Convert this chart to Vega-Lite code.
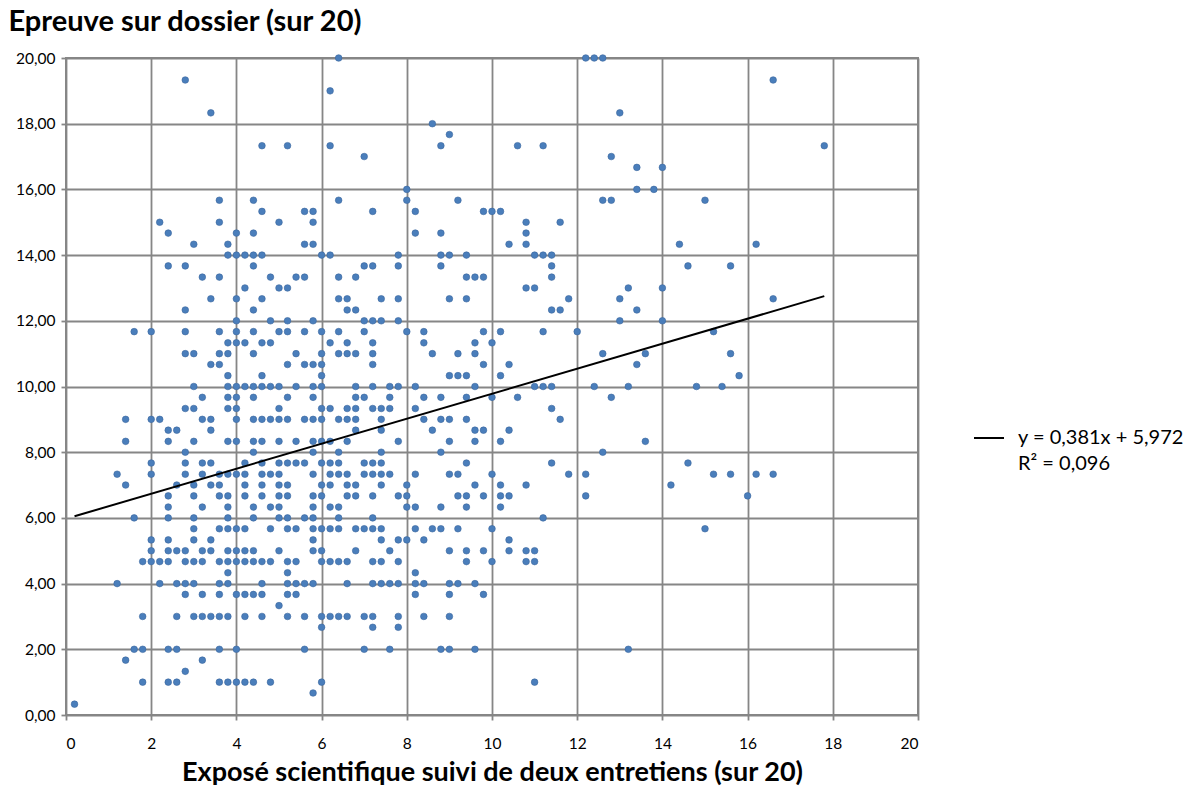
{
"$schema": "https://vega.github.io/schema/vega-lite/v6.json",
"width": 852, "height": 657,
"autosize": {"type": "none"},
"padding": {"left": 66, "top": 58, "right": 281, "bottom": 79},
"background": "white",
"config": {"font": "Lato", "view": {"stroke": "#868686", "strokeWidth": 2}},
"layer": [
{
"data": {"values": [
{"x":6.4,"y":20},{"x":12.2,"y":20},{"x":12.4,"y":20},{"x":12.6,"y":20},
{"x":2.8,"y":19.33},{"x":16.6,"y":19.33},{"x":6.2,"y":19},
{"x":3.4,"y":18.33},{"x":13.0,"y":18.33},{"x":8.6,"y":18},{"x":9.0,"y":17.67},
{"x":4.6,"y":17.33},{"x":5.2,"y":17.33},{"x":6.2,"y":17.33},{"x":8.8,"y":17.33},{"x":10.6,"y":17.33},{"x":11.2,"y":17.33},{"x":17.8,"y":17.33},
{"x":7.0,"y":17},{"x":12.8,"y":17},{"x":13.4,"y":16.67},{"x":14.0,"y":16.67},
{"x":8.0,"y":16},{"x":13.4,"y":16},{"x":13.8,"y":16},
{"x":3.6,"y":15.67},{"x":4.4,"y":15.67},{"x":6.4,"y":15.67},{"x":8.0,"y":15.67},{"x":9.2,"y":15.67},{"x":12.6,"y":15.67},{"x":12.8,"y":15.67},{"x":15.0,"y":15.67},
{"x":4.6,"y":15.33},{"x":5.6,"y":15.33},{"x":5.8,"y":15.33},{"x":7.2,"y":15.33},{"x":8.2,"y":15.33},{"x":9.8,"y":15.33},{"x":10.0,"y":15.33},{"x":10.2,"y":15.33},
{"x":2.2,"y":15},{"x":3.6,"y":15},{"x":5.0,"y":15},{"x":5.8,"y":15},{"x":10.8,"y":15},{"x":11.6,"y":15},
{"x":2.4,"y":14.67},{"x":4.0,"y":14.67},{"x":4.4,"y":14.67},{"x":8.2,"y":14.67},{"x":8.8,"y":14.67},{"x":10.8,"y":14.67},
{"x":3.0,"y":14.33},{"x":3.8,"y":14.33},{"x":5.6,"y":14.33},{"x":5.8,"y":14.33},{"x":10.4,"y":14.33},{"x":10.8,"y":14.33},{"x":14.4,"y":14.33},{"x":16.2,"y":14.33},
{"x":3.8,"y":14},{"x":4.0,"y":14},{"x":4.2,"y":14},{"x":4.4,"y":14},{"x":4.6,"y":14},{"x":6.0,"y":14},{"x":6.2,"y":14},{"x":7.8,"y":14},{"x":8.8,"y":14},{"x":9.0,"y":14},{"x":9.4,"y":14},{"x":11.0,"y":14},{"x":11.2,"y":14},{"x":11.4,"y":14},
{"x":2.4,"y":13.67},{"x":2.8,"y":13.67},{"x":4.4,"y":13.67},{"x":7.0,"y":13.67},{"x":7.2,"y":13.67},{"x":7.8,"y":13.67},{"x":8.8,"y":13.67},{"x":11.4,"y":13.67},{"x":14.6,"y":13.67},{"x":15.6,"y":13.67},
{"x":3.2,"y":13.33},{"x":3.6,"y":13.33},{"x":4.8,"y":13.33},{"x":5.4,"y":13.33},{"x":5.6,"y":13.33},{"x":6.4,"y":13.33},{"x":6.8,"y":13.33},{"x":9.4,"y":13.33},{"x":9.6,"y":13.33},{"x":9.8,"y":13.33},{"x":11.4,"y":13.33},
{"x":4.2,"y":13},{"x":5.0,"y":13},{"x":5.2,"y":13},{"x":10.8,"y":13},{"x":11.0,"y":13},{"x":13.2,"y":13},{"x":14.0,"y":13},
{"x":3.4,"y":12.67},{"x":4.0,"y":12.67},{"x":4.6,"y":12.67},{"x":6.4,"y":12.67},{"x":6.6,"y":12.67},{"x":7.4,"y":12.67},{"x":7.8,"y":12.67},{"x":9.0,"y":12.67},{"x":9.4,"y":12.67},{"x":11.8,"y":12.67},{"x":13.0,"y":12.67},{"x":16.6,"y":12.67},
{"x":2.8,"y":12.33},{"x":4.4,"y":12.33},{"x":6.6,"y":12.33},{"x":6.8,"y":12.33},{"x":11.4,"y":12.33},{"x":11.6,"y":12.33},{"x":13.4,"y":12.33},
{"x":4.0,"y":12},{"x":4.8,"y":12},{"x":5.2,"y":12},{"x":5.8,"y":12},{"x":7.0,"y":12},{"x":7.2,"y":12},{"x":7.4,"y":12},{"x":7.8,"y":12},{"x":13.0,"y":12},{"x":14.0,"y":12},
{"x":1.6,"y":11.67},{"x":2.0,"y":11.67},{"x":2.8,"y":11.67},{"x":3.6,"y":11.67},{"x":4.0,"y":11.67},{"x":4.4,"y":11.67},{"x":5.0,"y":11.67},{"x":5.2,"y":11.67},{"x":5.6,"y":11.67},{"x":6.0,"y":11.67},{"x":6.4,"y":11.67},{"x":7.0,"y":11.67},{"x":8.0,"y":11.67},{"x":8.4,"y":11.67},{"x":9.8,"y":11.67},{"x":10.2,"y":11.67},{"x":11.2,"y":11.67},{"x":12.0,"y":11.67},{"x":15.2,"y":11.67},
{"x":3.8,"y":11.33},{"x":4.0,"y":11.33},{"x":4.2,"y":11.33},{"x":4.6,"y":11.33},{"x":4.8,"y":11.33},{"x":6.2,"y":11.33},{"x":6.6,"y":11.33},{"x":7.2,"y":11.33},{"x":8.4,"y":11.33},{"x":9.6,"y":11.33},{"x":10.0,"y":11.33},
{"x":2.8,"y":11},{"x":3.0,"y":11},{"x":3.6,"y":11},{"x":3.8,"y":11},{"x":4.4,"y":11},{"x":5.4,"y":11},{"x":6.0,"y":11},{"x":6.4,"y":11},{"x":6.6,"y":11},{"x":6.8,"y":11},{"x":7.2,"y":11},{"x":8.6,"y":11},{"x":9.2,"y":11},{"x":9.6,"y":11},{"x":12.6,"y":11},{"x":13.6,"y":11},{"x":15.6,"y":11},
{"x":3.4,"y":10.67},{"x":3.6,"y":10.67},{"x":5.2,"y":10.67},{"x":5.6,"y":10.67},{"x":5.8,"y":10.67},{"x":6.0,"y":10.67},{"x":7.2,"y":10.67},{"x":9.8,"y":10.67},{"x":10.4,"y":10.67},{"x":13.4,"y":10.67},
{"x":3.8,"y":10.33},{"x":4.6,"y":10.33},{"x":6.0,"y":10.33},{"x":9.0,"y":10.33},{"x":9.2,"y":10.33},{"x":9.4,"y":10.33},{"x":10.2,"y":10.33},{"x":15.8,"y":10.33},
{"x":3.0,"y":10},{"x":3.8,"y":10},{"x":4.0,"y":10},{"x":4.2,"y":10},{"x":4.4,"y":10},{"x":4.6,"y":10},{"x":4.8,"y":10},{"x":5.0,"y":10},{"x":5.4,"y":10},{"x":5.8,"y":10},{"x":6.0,"y":10},{"x":6.8,"y":10},{"x":7.2,"y":10},{"x":7.6,"y":10},{"x":7.8,"y":10},{"x":8.2,"y":10},{"x":9.6,"y":10},{"x":11.0,"y":10},{"x":11.2,"y":10},{"x":11.4,"y":10},{"x":12.4,"y":10},{"x":13.2,"y":10},{"x":14.8,"y":10},{"x":15.4,"y":10},
{"x":3.2,"y":9.67},{"x":3.8,"y":9.67},{"x":4.0,"y":9.67},{"x":4.4,"y":9.67},{"x":5.2,"y":9.67},{"x":5.8,"y":9.67},{"x":6.8,"y":9.67},{"x":7.0,"y":9.67},{"x":7.6,"y":9.67},{"x":8.4,"y":9.67},{"x":8.8,"y":9.67},{"x":9.4,"y":9.67},{"x":10.0,"y":9.67},{"x":10.6,"y":9.67},{"x":12.8,"y":9.67},
{"x":2.8,"y":9.33},{"x":3.0,"y":9.33},{"x":3.8,"y":9.33},{"x":4.0,"y":9.33},{"x":5.0,"y":9.33},{"x":6.0,"y":9.33},{"x":6.2,"y":9.33},{"x":6.6,"y":9.33},{"x":6.8,"y":9.33},{"x":7.2,"y":9.33},{"x":7.4,"y":9.33},{"x":7.6,"y":9.33},{"x":8.2,"y":9.33},{"x":11.4,"y":9.33},
{"x":1.4,"y":9},{"x":2.0,"y":9},{"x":2.2,"y":9},{"x":3.2,"y":9},{"x":3.4,"y":9},{"x":4.0,"y":9},{"x":4.4,"y":9},{"x":4.6,"y":9},{"x":4.8,"y":9},{"x":5.0,"y":9},{"x":5.2,"y":9},{"x":5.6,"y":9},{"x":5.8,"y":9},{"x":6.0,"y":9},{"x":6.4,"y":9},{"x":6.6,"y":9},{"x":6.8,"y":9},{"x":7.4,"y":9},{"x":8.4,"y":9},{"x":8.8,"y":9},{"x":9.0,"y":9},{"x":9.4,"y":9},{"x":11.6,"y":9},
{"x":2.4,"y":8.67},{"x":2.6,"y":8.67},{"x":3.4,"y":8.67},{"x":6.8,"y":8.67},{"x":7.4,"y":8.67},{"x":8.6,"y":8.67},{"x":9.6,"y":8.67},{"x":9.8,"y":8.67},{"x":10.4,"y":8.67},
{"x":1.4,"y":8.33},{"x":2.4,"y":8.33},{"x":3.0,"y":8.33},{"x":3.8,"y":8.33},{"x":4.0,"y":8.33},{"x":4.4,"y":8.33},{"x":4.6,"y":8.33},{"x":5.0,"y":8.33},{"x":5.4,"y":8.33},{"x":5.8,"y":8.33},{"x":6.0,"y":8.33},{"x":6.2,"y":8.33},{"x":6.6,"y":8.33},{"x":7.8,"y":8.33},{"x":9.0,"y":8.33},{"x":9.6,"y":8.33},{"x":10.2,"y":8.33},{"x":13.6,"y":8.33},
{"x":2.8,"y":8},{"x":4.4,"y":8},{"x":5.8,"y":8},{"x":6.4,"y":8},{"x":7.4,"y":8},{"x":8.8,"y":8},{"x":12.6,"y":8},
{"x":2.0,"y":7.67},{"x":2.8,"y":7.67},{"x":3.2,"y":7.67},{"x":3.4,"y":7.67},{"x":4.2,"y":7.67},{"x":4.6,"y":7.67},{"x":5.0,"y":7.67},{"x":5.2,"y":7.67},{"x":5.4,"y":7.67},{"x":5.6,"y":7.67},{"x":6.0,"y":7.67},{"x":6.2,"y":7.67},{"x":6.4,"y":7.67},{"x":7.0,"y":7.67},{"x":7.2,"y":7.67},{"x":7.4,"y":7.67},{"x":9.4,"y":7.67},{"x":11.4,"y":7.67},{"x":14.6,"y":7.67},
{"x":1.2,"y":7.33},{"x":2.0,"y":7.33},{"x":2.8,"y":7.33},{"x":3.2,"y":7.33},{"x":3.6,"y":7.33},{"x":3.8,"y":7.33},{"x":4.0,"y":7.33},{"x":4.2,"y":7.33},{"x":4.6,"y":7.33},{"x":4.8,"y":7.33},{"x":5.0,"y":7.33},{"x":5.8,"y":7.33},{"x":6.2,"y":7.33},{"x":6.4,"y":7.33},{"x":6.6,"y":7.33},{"x":7.0,"y":7.33},{"x":7.2,"y":7.33},{"x":7.4,"y":7.33},{"x":7.6,"y":7.33},{"x":8.2,"y":7.33},{"x":9.0,"y":7.33},{"x":9.2,"y":7.33},{"x":10.0,"y":7.33},{"x":11.8,"y":7.33},{"x":12.2,"y":7.33},{"x":15.2,"y":7.33},{"x":15.6,"y":7.33},{"x":16.2,"y":7.33},{"x":16.6,"y":7.33},
{"x":1.4,"y":7},{"x":2.6,"y":7},{"x":3.0,"y":7},{"x":3.4,"y":7},{"x":3.6,"y":7},{"x":4.2,"y":7},{"x":4.6,"y":7},{"x":5.0,"y":7},{"x":5.2,"y":7},{"x":6.0,"y":7},{"x":6.2,"y":7},{"x":6.6,"y":7},{"x":6.8,"y":7},{"x":7.4,"y":7},{"x":8.0,"y":7},{"x":9.6,"y":7},{"x":10.2,"y":7},{"x":10.8,"y":7},{"x":14.2,"y":7},
{"x":2.4,"y":6.67},{"x":3.0,"y":6.67},{"x":3.6,"y":6.67},{"x":3.8,"y":6.67},{"x":4.2,"y":6.67},{"x":4.6,"y":6.67},{"x":5.0,"y":6.67},{"x":5.2,"y":6.67},{"x":5.8,"y":6.67},{"x":6.0,"y":6.67},{"x":6.6,"y":6.67},{"x":6.8,"y":6.67},{"x":7.2,"y":6.67},{"x":7.8,"y":6.67},{"x":8.0,"y":6.67},{"x":9.2,"y":6.67},{"x":9.4,"y":6.67},{"x":9.8,"y":6.67},{"x":10.2,"y":6.67},{"x":10.4,"y":6.67},{"x":12.2,"y":6.67},{"x":16.0,"y":6.67},
{"x":2.4,"y":6.33},{"x":3.2,"y":6.33},{"x":3.8,"y":6.33},{"x":4.4,"y":6.33},{"x":4.8,"y":6.33},{"x":5.0,"y":6.33},{"x":5.8,"y":6.33},{"x":6.2,"y":6.33},{"x":6.4,"y":6.33},{"x":8.0,"y":6.33},{"x":8.2,"y":6.33},{"x":8.8,"y":6.33},{"x":9.4,"y":6.33},{"x":10.2,"y":6.33},
{"x":1.6,"y":6},{"x":2.4,"y":6},{"x":3.0,"y":6},{"x":3.8,"y":6},{"x":4.4,"y":6},{"x":5.0,"y":6},{"x":5.2,"y":6},{"x":5.6,"y":6},{"x":5.8,"y":6},{"x":6.4,"y":6},{"x":7.2,"y":6},{"x":11.2,"y":6},
{"x":3.0,"y":5.67},{"x":3.6,"y":5.67},{"x":3.8,"y":5.67},{"x":4.0,"y":5.67},{"x":4.2,"y":5.67},{"x":4.8,"y":5.67},{"x":5.2,"y":5.67},{"x":5.4,"y":5.67},{"x":5.8,"y":5.67},{"x":6.0,"y":5.67},{"x":6.2,"y":5.67},{"x":6.4,"y":5.67},{"x":6.8,"y":5.67},{"x":7.0,"y":5.67},{"x":7.2,"y":5.67},{"x":7.4,"y":5.67},{"x":8.2,"y":5.67},{"x":8.6,"y":5.67},{"x":8.8,"y":5.67},{"x":9.2,"y":5.67},{"x":10.0,"y":5.67},{"x":15.0,"y":5.67},
{"x":2.0,"y":5.33},{"x":2.4,"y":5.33},{"x":3.0,"y":5.33},{"x":3.4,"y":5.33},{"x":5.8,"y":5.33},{"x":7.4,"y":5.33},{"x":7.8,"y":5.33},{"x":8.0,"y":5.33},{"x":8.4,"y":5.33},{"x":10.4,"y":5.33},
{"x":2.0,"y":5},{"x":2.4,"y":5},{"x":2.6,"y":5},{"x":2.8,"y":5},{"x":3.2,"y":5},{"x":3.4,"y":5},{"x":3.8,"y":5},{"x":4.0,"y":5},{"x":4.2,"y":5},{"x":4.4,"y":5},{"x":5.0,"y":5},{"x":5.8,"y":5},{"x":6.0,"y":5},{"x":6.8,"y":5},{"x":7.6,"y":5},{"x":9.0,"y":5},{"x":9.4,"y":5},{"x":9.8,"y":5},{"x":10.4,"y":5},{"x":10.8,"y":5},{"x":11.0,"y":5},
{"x":1.8,"y":4.67},{"x":2.0,"y":4.67},{"x":2.2,"y":4.67},{"x":2.4,"y":4.67},{"x":2.8,"y":4.67},{"x":3.0,"y":4.67},{"x":3.2,"y":4.67},{"x":3.6,"y":4.67},{"x":3.8,"y":4.67},{"x":4.0,"y":4.67},{"x":4.2,"y":4.67},{"x":4.4,"y":4.67},{"x":4.6,"y":4.67},{"x":4.8,"y":4.67},{"x":5.2,"y":4.67},{"x":5.4,"y":4.67},{"x":6.0,"y":4.67},{"x":6.2,"y":4.67},{"x":6.4,"y":4.67},{"x":6.6,"y":4.67},{"x":7.2,"y":4.67},{"x":7.4,"y":4.67},{"x":7.8,"y":4.67},{"x":9.4,"y":4.67},{"x":10.0,"y":4.67},{"x":10.8,"y":4.67},{"x":11.0,"y":4.67},
{"x":3.8,"y":4.33},{"x":5.2,"y":4.33},{"x":8.2,"y":4.33},
{"x":1.2,"y":4},{"x":2.2,"y":4},{"x":2.6,"y":4},{"x":2.8,"y":4},{"x":3.0,"y":4},{"x":3.6,"y":4},{"x":3.8,"y":4},{"x":4.6,"y":4},{"x":5.2,"y":4},{"x":5.4,"y":4},{"x":5.6,"y":4},{"x":5.8,"y":4},{"x":6.6,"y":4},{"x":7.2,"y":4},{"x":7.4,"y":4},{"x":7.6,"y":4},{"x":7.8,"y":4},{"x":8.2,"y":4},{"x":8.4,"y":4},{"x":9.0,"y":4},{"x":9.2,"y":4},{"x":9.6,"y":4},
{"x":2.8,"y":3.67},{"x":3.2,"y":3.67},{"x":3.6,"y":3.67},{"x":4.0,"y":3.67},{"x":4.2,"y":3.67},{"x":4.4,"y":3.67},{"x":4.6,"y":3.67},{"x":5.2,"y":3.67},{"x":5.4,"y":3.67},{"x":8.2,"y":3.67},{"x":9.0,"y":3.67},{"x":9.8,"y":3.67},
{"x":5.0,"y":3.33},
{"x":1.8,"y":3},{"x":2.6,"y":3},{"x":3.0,"y":3},{"x":3.2,"y":3},{"x":3.4,"y":3},{"x":3.6,"y":3},{"x":3.8,"y":3},{"x":4.2,"y":3},{"x":4.6,"y":3},{"x":5.2,"y":3},{"x":5.6,"y":3},{"x":6.0,"y":3},{"x":6.2,"y":3},{"x":6.4,"y":3},{"x":6.6,"y":3},{"x":7.0,"y":3},{"x":7.2,"y":3},{"x":7.8,"y":3},{"x":8.4,"y":3},{"x":9.0,"y":3},
{"x":6.0,"y":2.67},{"x":7.2,"y":2.67},{"x":7.8,"y":2.67},
{"x":1.6,"y":2},{"x":1.8,"y":2},{"x":2.4,"y":2},{"x":2.6,"y":2},{"x":3.6,"y":2},{"x":4.0,"y":2},{"x":5.6,"y":2},{"x":7.0,"y":2},{"x":7.6,"y":2},{"x":8.8,"y":2},{"x":9.0,"y":2},{"x":9.6,"y":2},{"x":13.2,"y":2},
{"x":1.4,"y":1.67},{"x":3.2,"y":1.67},{"x":2.8,"y":1.33},
{"x":1.8,"y":1},{"x":2.4,"y":1},{"x":2.6,"y":1},{"x":3.6,"y":1},{"x":3.8,"y":1},{"x":4.0,"y":1},{"x":4.2,"y":1},{"x":4.4,"y":1},{"x":4.8,"y":1},{"x":6.0,"y":1},{"x":11.0,"y":1},
{"x":5.8,"y":0.67},{"x":0.2,"y":0.33}
]},
"mark": {"type": "circle", "size": 44, "fill": "#4A7EBB", "stroke": "#3A669E", "strokeWidth": 0.6, "opacity": 1},
"encoding": {
"x": {"field": "x", "type": "quantitative",
"scale": {"domain": [0, 20], "nice": false, "zero": false},
"axis": {"values": [0,2,4,6,8,10,12,14,16,18,20], "grid": true, "gridColor": "#868686", "gridWidth": 1.8, "domain": false,
"tickColor": "#868686", "tickWidth": 1.8, "tickSize": 5, "labelFontSize": 15.5, "labelColor": "#000000", "labelPadding": 16, "labelFont": "Lato",
"title": "Exposé scientifique suivi de deux entretiens (sur 20)", "titleFontSize": 27, "titleFontWeight": "bold", "titleColor": "#000000", "titleFont": "Lato", "titleBaseline": "top", "titleY": 44}},
"y": {"field": "y", "type": "quantitative",
"scale": {"domain": [0, 20], "nice": false, "zero": false},
"axis": {"values": [0,2,4,6,8,10,12,14,16,18,20], "grid": true, "gridColor": "#868686", "gridWidth": 1.8, "domain": false,
"tickColor": "#868686", "tickWidth": 1.8, "tickSize": 5, "labelFontSize": 15.5, "labelColor": "#000000", "labelPadding": 6, "labelFont": "Lato",
"labelExpr": "replace(format(datum.value, '.2f'), '.', ',')",
"title": "Epreuve sur dossier (sur 20)", "titleFontSize": 29, "titleFontWeight": "bold", "titleColor": "#000000", "titleFont": "Lato",
"titleAngle": 0, "titleAlign": "left", "titleBaseline": "middle", "titleX": -58, "titleY": -37}}
}
},
{
"data": {"values": [{"x": 0.2, "y": 6.05, "s": "y = 0,381x + 5,972"}, {"x": 17.8, "y": 12.75, "s": "y = 0,381x + 5,972"}]},
"mark": {"type": "line", "strokeWidth": 2},
"encoding": {
"x": {"field": "x", "type": "quantitative"},
"y": {"field": "y", "type": "quantitative"},
"color": {"field": "s", "type": "nominal",
"scale": {"domain": ["y = 0,381x + 5,972", "R² = 0,096"], "range": ["#000000", "rgba(0,0,0,0)"]},
"legend": {"title": null, "orient": "none", "legendX": 907, "legendY": 364, "padding": 0, "rowPadding": 0,
"symbolType": "stroke", "symbolSize": 900, "symbolStrokeWidth": 2, "labelFontSize": 20, "labelFont": "Lato", "labelColor": "#000000", "labelOffset": 13, "labelLimit": 300}}
}
}
]
}
